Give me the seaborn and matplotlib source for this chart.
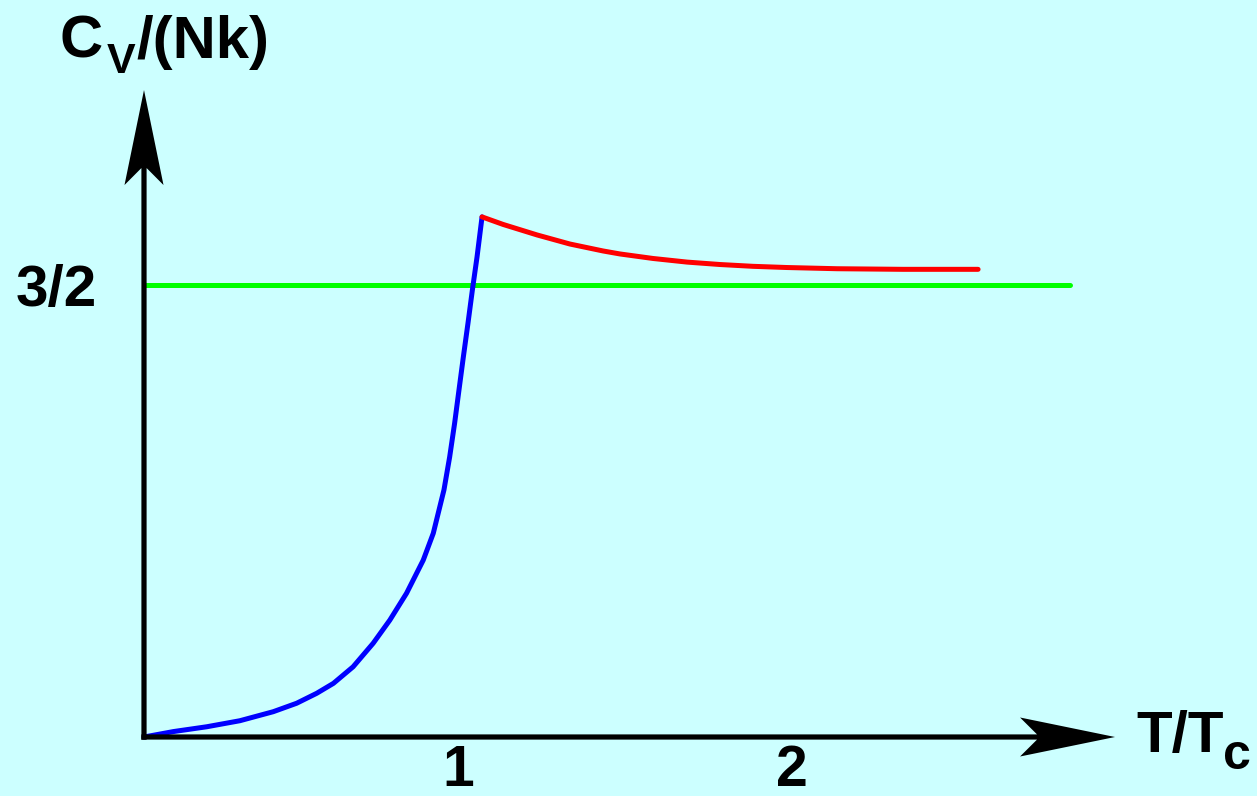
import matplotlib
matplotlib.use("Agg")
import numpy as np
import matplotlib.pyplot as plt
import seaborn as sns
from matplotlib.patches import ArrowStyle, FancyArrowPatch
from matplotlib.path import Path

# ---- data (schematic heat capacity of an ideal Bose gas) ----
t_below = [0.060, 0.148, 0.248, 0.347, 0.447, 0.517, 0.577, 0.627, 0.686,
           0.746, 0.796, 0.846, 0.896, 0.926, 0.958, 0.975, 0.990, 1.003,
           1.016, 1.030, 1.043, 1.057, 1.072]
cv_below = [0.000, 0.018, 0.034, 0.054, 0.084, 0.112, 0.145, 0.178, 0.233,
            0.311, 0.388, 0.477, 0.587, 0.676, 0.820, 0.929, 1.042, 1.152,
            1.261, 1.374, 1.483, 1.593, 1.726]
t_above = [1.072, 1.135, 1.237, 1.335, 1.434, 1.485, 1.584, 1.686, 1.784,
           1.883, 1.985, 2.135, 2.234, 2.332, 2.557]
cv_above = [1.726, 1.701, 1.666, 1.636, 1.613, 1.603, 1.588, 1.576, 1.568,
            1.562, 1.558, 1.554, 1.553, 1.552, 1.552]
t_classical = [0.060, 2.832]
cv_classical = [1.5, 1.5]
x_ticks = [1, 2]
x_ticklabels = ["1", "2"]
y_ticks = [1.5]
y_ticklabels = ["3/2"]

BG = "#CCFFFF"
sns.set_theme(style="white")
plt.rcParams["font.family"] = ["Liberation Sans", "DejaVu Sans"]
plt.rcParams["font.weight"] = "bold"
plt.rcParams["text.color"] = "black"

W, H = 1257, 796
fig = plt.figure(figsize=(W / 100, H / 100), dpi=100, facecolor=BG)
ax = fig.add_axes([144 / W, (H - 737) / H, (W - 144) / W, 737 / H])
ax.set_facecolor(BG)

lw = 3.6
sns.lineplot(x=t_classical, y=cv_classical, ax=ax, color="#00FF00", lw=lw,
             sort=False, clip_on=False, zorder=2)
sns.lineplot(x=t_below, y=cv_below, ax=ax, color="#0000FF", lw=lw,
             sort=False, clip_on=False, zorder=3)
sns.lineplot(x=t_above, y=cv_above, ax=ax, color="#FF0000", lw=lw,
             sort=False, clip_on=False, zorder=3)

x0 = 0.060
ax.set_xlim(x0, 3.392)
ax.set_ylim(0, 2.4458)
for s in ax.spines.values():
    s.set_visible(False)


class Stealth(ArrowStyle._Base):
    """Filled arrow with notched ("stealth") head; sizes in pixels."""

    def __init__(self, head_length=95, head_width=19.5, notch=17, shaft=2.6):
        self.L, self.hw, self.notch, self.sw = head_length, head_width, notch, shaft
        super().__init__()

    def transmute(self, path, mutation_size, linewidth):
        m = mutation_size
        s = np.asarray(path.vertices[0], float)
        t = np.asarray(path.vertices[-1], float)
        u = (t - s) / np.hypot(*(t - s))
        n = np.array([-u[1], u[0]])
        L, hw, nt, sw = self.L * m, self.hw * m, self.notch * m, self.sw * m
        neck = t - u * (L - nt)
        base = t - u * L
        verts = [s + n * sw, neck + n * sw, base + n * hw, t,
                 base - n * hw, neck - n * sw, s - n * sw, s + n * sw]
        codes = [Path.MOVETO] + [Path.LINETO] * 6 + [Path.CLOSEPOLY]
        return Path(verts, codes), True


def axis_arrow(p0, p1):
    ax.add_patch(FancyArrowPatch(p0, p1, arrowstyle=Stealth(), mutation_scale=0.72,
                                 facecolor="black", edgecolor="none", lw=0,
                                 shrinkA=0, shrinkB=0, clip_on=False, zorder=5,
                                 transform=ax.transData))


axis_arrow((x0 - 0.008, 0), (2.967, 0))
axis_arrow((x0, -0.009), (x0, 2.147))

ax.set_xticks(x_ticks)
ax.set_xticklabels(x_ticklabels, fontsize=41, fontweight="bold")
ax.set_yticks(y_ticks)
ax.set_yticklabels(y_ticklabels, fontsize=42, fontweight="bold")
ax.tick_params(axis="x", length=0, pad=5, labelcolor="black")
ax.tick_params(axis="y", length=0, pad=34, labelcolor="black")
ax.set_xlabel("")
ax.set_ylabel("")


def ftext(px, py, s, size):
    fig.text(px / W, (H - py) / H, s, fontsize=size, fontweight="bold",
             ha="left", va="baseline", color="black")


# y-axis title  C_V/(Nk)
ftext(60, 58, "C", 43)
ftext(107, 73, "V", 31)
ftext(136, 58, "/(Nk)", 43)
# x-axis title  T/T_c
ftext(1136, 752, "T/T", 42)
ftext(1223, 769, "c", 36)

fig.savefig("out.png", dpi=100, facecolor=BG)
